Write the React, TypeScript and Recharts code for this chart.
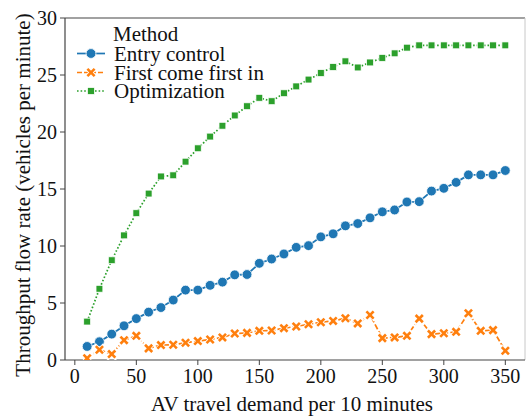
import React from 'react';
import { LineChart, Line, XAxis, YAxis, ReferenceLine, Label } from 'recharts';

const demand = [10, 20, 30, 40, 50, 60, 70, 80, 90, 100, 110, 120, 130, 140, 150, 160, 170, 180, 190, 200, 210, 220, 230, 240, 250, 260, 270, 280, 290, 300, 310, 320, 330, 340, 350];
const entryControl = [1.19, 1.6, 2.27, 3.0, 3.63, 4.2, 4.6, 5.26, 6.13, 6.13, 6.55, 6.83, 7.47, 7.5, 8.48, 8.86, 9.3, 9.88, 10.03, 10.8, 11.07, 11.77, 11.97, 12.47, 13.0, 13.16, 13.86, 13.89, 14.82, 15.06, 15.58, 16.24, 16.24, 16.24, 16.62];
const firstCome = [0.15, 0.9, 0.52, 1.74, 2.12, 1.02, 1.31, 1.34, 1.51, 1.66, 1.8, 1.98, 2.32, 2.38, 2.56, 2.59, 2.79, 2.94, 3.14, 3.31, 3.43, 3.66, 3.21, 3.95, 1.92, 1.98, 2.12, 3.63, 2.27, 2.35, 2.47, 4.1, 2.56, 2.62, 0.81];
const optimization = [3.37, 6.25, 8.75, 10.93, 12.88, 14.6, 16.1, 16.2, 17.4, 18.57, 19.6, 20.55, 21.45, 22.26, 23.0, 22.7, 23.4, 24.0, 24.6, 25.17, 25.7, 26.2, 25.66, 26.1, 26.5, 26.9, 27.4, 27.6, 27.6, 27.6, 27.6, 27.6, 27.6, 27.6, 27.6];
const xTicks = [0, 50, 100, 150, 200, 250, 300, 350];
const yTicks = [0, 5, 10, 15, 20, 25, 30];
const seriesNames = ['Entry control', 'First come first in', 'Optimization'];
const legendTitle = 'Method';
const xLabel = 'AV travel demand per 10 minutes';
const yLabel = 'Throughput flow rate (vehicles per minute)';

const BLUE = '#1f77b4';
const ORANGE = '#ff7f0e';
const GREEN = '#2ca02c';
const FONT = '"Liberation Serif", "Times New Roman", serif';
const SPINE = '#444';

const data = demand.map((d, i) => ({
  demand: d,
  entry: entryControl[i],
  fcfi: firstCome[i],
  opt: optimization[i],
}));

const CircleMark = ({ cx, cy }: { cx: number; cy: number }) => (
  <circle cx={cx} cy={cy} r={4.9} fill={BLUE} stroke="#fff" strokeWidth={0.8} />
);
const XMark = ({ cx, cy }: { cx: number; cy: number }) => {
  const h = 3.6;
  return (
    <g>
      <line x1={cx - h} y1={cy - h} x2={cx + h} y2={cy + h} stroke="#fff" strokeWidth={4.2} strokeLinecap="square" />
      <line x1={cx - h} y1={cy + h} x2={cx + h} y2={cy - h} stroke="#fff" strokeWidth={4.2} strokeLinecap="square" />
      <line x1={cx - h} y1={cy - h} x2={cx + h} y2={cy + h} stroke={ORANGE} strokeWidth={2.6} />
      <line x1={cx - h} y1={cy + h} x2={cx + h} y2={cy - h} stroke={ORANGE} strokeWidth={2.6} />
    </g>
  );
};
const SquareMark = ({ cx, cy }: { cx: number; cy: number }) => (
  <rect x={cx - 3.4} y={cy - 3.4} width={6.8} height={6.8} fill={GREEN} stroke="#fff" strokeWidth={0.7} />
);

const dotFn = (Comp: any) => (props: any) => {
  const { cx, cy, index } = props;
  if (cx == null || cy == null) return <g key={`n${index}`} />;
  return <g key={`d${index}`}><Comp cx={cx} cy={cy} /></g>;
};

const LegendBox = () => {
  const rows = [
    { name: seriesNames[0], color: BLUE, dash: undefined as string | undefined, Mark: CircleMark, y: 35.5 },
    { name: seriesNames[1], color: ORANGE, dash: '5 2', Mark: XMark, y: 54.5 },
    { name: seriesNames[2], color: GREEN, dash: '1.6 2', Mark: SquareMark, y: 73 },
  ];
  return (
    <svg width={220} height={95} style={{ position: 'absolute', left: 70, top: 18 }}>
      <text x={43} y={22.5} fontFamily={FONT} fontSize={21} fill="#111">{legendTitle}</text>
      {rows.map((r) => (
        <g key={r.name}>
          <line x1={7} y1={r.y} x2={35} y2={r.y} stroke={r.color} strokeWidth={1.7} strokeDasharray={r.dash} />
          <r.Mark cx={21} cy={r.y} />
          <text x={44} y={r.y + 7} fontFamily={FONT} fontSize={21} fill="#111">{r.name}</text>
        </g>
      ))}
    </svg>
  );
};

export default function App() {
  return (
    <div style={{ position: 'absolute', left: 0, top: 0, width: 526, height: 418, background: '#fff' }}>
      <LineChart width={526} height={418} data={data} margin={{ top: 18, right: 1, left: 0, bottom: 0 }}>
        <XAxis
          type="number"
          dataKey="demand"
          domain={[-8, 366]}
          ticks={xTicks}
          allowDataOverflow
          height={58}
          tickSize={5}
          tickMargin={4}
          stroke={SPINE}
          axisLine={{ stroke: SPINE, strokeWidth: 1.2 }}
          tickLine={{ stroke: SPINE }}
          tick={{ fontFamily: FONT, fontSize: 20, fill: '#111' }}
          label={
            <Label
              content={(p: any) => {
                const vb = p.viewBox || {};
                return (
                  <text x={vb.x + vb.width / 2 - 3} y={411} textAnchor="middle" fontFamily={FONT} fontSize={21} fill="#111">
                    {xLabel}
                  </text>
                );
              }}
            />
          }
        />
        <YAxis
          type="number"
          domain={[0, 30]}
          ticks={yTicks}
          allowDataOverflow
          width={65}
          tickSize={5}
          tickMargin={3}
          stroke={SPINE}
          axisLine={{ stroke: SPINE, strokeWidth: 1.2 }}
          tickLine={{ stroke: SPINE }}
          tick={{ fontFamily: FONT, fontSize: 20, fill: '#111' }}
          label={
            <Label
              content={() => (
                <text transform="translate(30,195) rotate(-90)" textAnchor="middle" fontFamily={FONT} fontSize={21} fill="#111">
                  {yLabel}
                </text>
              )}
            />
          }
        />
        <ReferenceLine y={30} stroke={SPINE} strokeWidth={1.2} />
        <ReferenceLine x={366} stroke="#c8c8c8" strokeWidth={1} />
        <Line
          dataKey="entry"
          name={seriesNames[0]}
          stroke={BLUE}
          strokeWidth={1.8}
          dot={dotFn(CircleMark)}
          activeDot={false}
          isAnimationActive={false}
        />
        <Line
          dataKey="fcfi"
          name={seriesNames[1]}
          stroke={ORANGE}
          strokeWidth={1.7}
          strokeDasharray="5.5 2.2"
          dot={dotFn(XMark)}
          activeDot={false}
          isAnimationActive={false}
        />
        <Line
          dataKey="opt"
          name={seriesNames[2]}
          stroke={GREEN}
          strokeWidth={1.7}
          strokeDasharray="1.6 2"
          dot={dotFn(SquareMark)}
          activeDot={false}
          isAnimationActive={false}
        />
      </LineChart>
      <LegendBox />
    </div>
  );
}
